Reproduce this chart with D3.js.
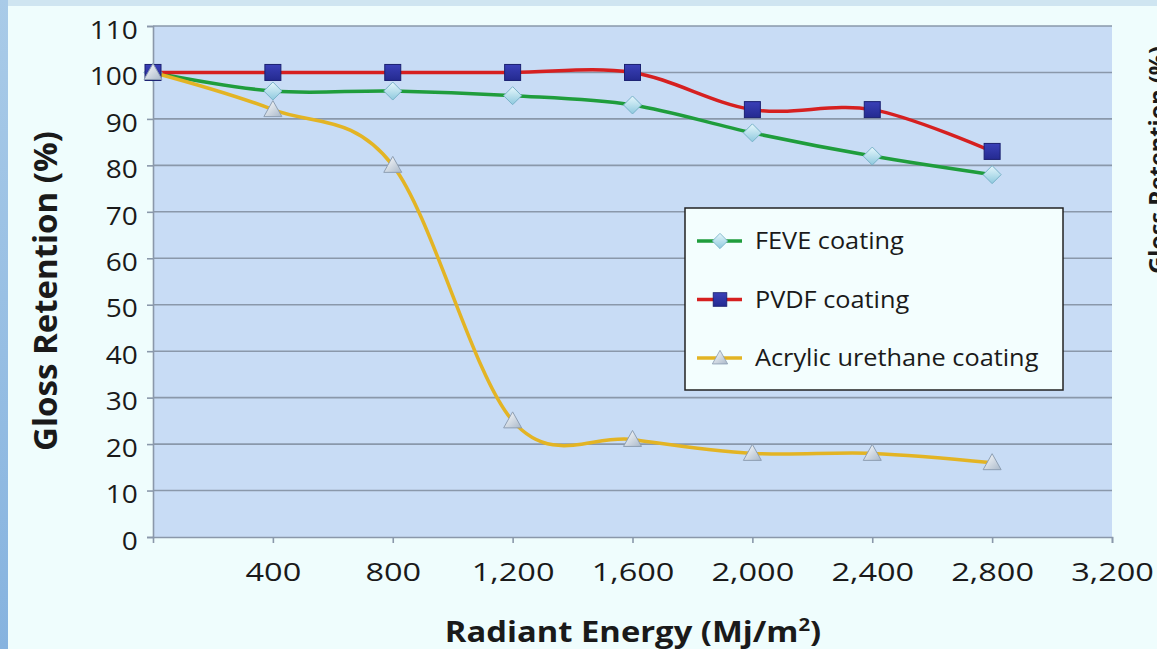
<!DOCTYPE html>
<html>
<head>
<meta charset="utf-8">
<script src="https://d3js.org/d3.v7.min.js"></script>
<style>
  body { margin: 0; background: #effdfd; }
  svg { display: block; font-family: "Open Sans", "Noto Sans", sans-serif; }
</style>
</head>
<body>
<div id="chart"></div>
<script>
// Data
var energy = [0, 400, 800, 1200, 1600, 2000, 2400, 2800];
var feve = [100, 96, 96, 95, 93, 87, 82, 78];
var pvdf = [100, 100, 100, 100, 100, 92, 92, 83];
var acrylic = [100, 92, 80, 25, 21, 18, 18, 16];
var seriesNames = ["FEVE coating", "PVDF coating", "Acrylic urethane coating"];
var xTicks = [400, 800, 1200, 1600, 2000, 2400, 2800, 3200];
var yTicks = [0, 10, 20, 30, 40, 50, 60, 70, 80, 90, 100, 110];

var W = 1157, H = 649;
var margin = { top: 26, right: 45, bottom: 112, left: 153 };
var width = W - margin.left - margin.right;
var height = H - margin.top - margin.bottom;

var svg = d3.select("#chart").append("svg")
  .attr("width", W)
  .attr("height", H);

// page background bits
var defs = svg.append("defs");
var lg = defs.append("linearGradient").attr("id", "leftStrip")
  .attr("x1", 0).attr("y1", 0).attr("x2", 0).attr("y2", 1);
lg.append("stop").attr("offset", "0%").attr("stop-color", "#a9cbe8");
lg.append("stop").attr("offset", "100%").attr("stop-color", "#86b3df");

var dg = defs.append("linearGradient").attr("id", "diamondFill")
  .attr("x1", 0).attr("y1", 0).attr("x2", 0).attr("y2", 1);
dg.append("stop").attr("offset", "0%").attr("stop-color", "#e6f7fc");
dg.append("stop").attr("offset", "100%").attr("stop-color", "#8ec9de");

var tg = defs.append("linearGradient").attr("id", "triFill")
  .attr("x1", 0).attr("y1", 0).attr("x2", 1).attr("y2", 1);
tg.append("stop").attr("offset", "0%").attr("stop-color", "#ffffff");
tg.append("stop").attr("offset", "100%").attr("stop-color", "#a9b8c9");

var sg = defs.append("linearGradient").attr("id", "sqFill")
  .attr("x1", 0).attr("y1", 0).attr("x2", 0).attr("y2", 1);
sg.append("stop").attr("offset", "0%").attr("stop-color", "#3a40b8");
sg.append("stop").attr("offset", "100%").attr("stop-color", "#242a90");

svg.append("rect").attr("width", W).attr("height", H).attr("fill", "#effdfd");
svg.append("rect").attr("width", W).attr("height", 6).attr("fill", "#cfe5f1");
svg.append("rect").attr("width", 8).attr("height", H).attr("fill", "url(#leftStrip)");

var g = svg.append("g")
  .attr("transform", "translate(" + margin.left + "," + margin.top + ")");

// scales
var x = d3.scaleLinear().domain([0, 3200]).range([0, width]);
var y = d3.scaleLinear().domain([0, 110]).range([height, 0]);

// plot area
g.append("rect")
  .attr("width", width)
  .attr("height", height)
  .attr("fill", "#c8dcf5");

// gridlines
g.append("g").selectAll("line")
  .data(yTicks.filter(function(d) { return d > 0; }))
  .enter().append("line")
  .attr("x1", 0).attr("x2", width)
  .attr("y1", function(d) { return y(d); })
  .attr("y2", function(d) { return y(d); })
  .attr("stroke", "#8a98aa")
  .attr("stroke-width", 1.6);

// axes
var xAxis = g.append("g")
  .attr("transform", "translate(0," + height + ")")
  .call(d3.axisBottom(x).tickValues(xTicks).tickSize(6).tickPadding(20)
    .tickFormat(d3.format(",")));
var yAxis = g.append("g")
  .call(d3.axisLeft(y).tickValues(yTicks).tickSize(6).tickPadding(8));

[xAxis, yAxis].forEach(function(a) {
  a.select(".domain").attr("stroke", "#8a98aa").attr("stroke-width", 1.6);
  a.selectAll(".tick line").attr("stroke", "#8a98aa").attr("stroke-width", 1.6);
  a.selectAll("text")
    .attr("fill", "#1a1a1a")
    .style("font-size", "26px")
    .style("font-family", "'Open Sans', sans-serif");
});
// the source picture is stretched sideways a little
yAxis.selectAll("text").attr("dy", "0.47em").attr("transform", "scale(1.08,1)");
xAxis.selectAll("text").attr("transform", "scale(1.25,1)");

// axis titles
svg.append("text")
  .attr("transform", "rotate(-90)")
  .attr("x", -291)
  .attr("y", 57)
  .style("text-anchor", "middle")
  .style("font-size", "33px")
  .style("font-weight", "bold")
  .attr("fill", "#1a1a1a")
  .text("Gloss Retention (%)");

var xt = svg.append("text")
  .attr("transform", "translate(633,642) scale(1.13,1)")
  .style("text-anchor", "middle")
  .style("font-size", "29px")
  .style("font-weight", "bold")
  .attr("fill", "#1a1a1a");
xt.append("tspan").text("Radiant Energy (Mj/m");
xt.append("tspan").attr("dy", -11).style("font-size", "18px").text("2");
xt.append("tspan").attr("dy", 11).text(")");

// cut-off title on the right edge
svg.append("text")
  .attr("transform", "rotate(-90)")
  .attr("x", -160)
  .attr("y", 1166)
  .style("text-anchor", "middle")
  .style("font-size", "23.5px")
  .style("font-weight", "bold")
  .attr("fill", "#1a1a1a")
  .text("Gloss Retention (%)");

// series
var series = [
  { name: seriesNames[0], values: feve, color: "#1f9d3c", marker: "diamond" },
  { name: seriesNames[1], values: pvdf, color: "#d62020", marker: "square" },
  { name: seriesNames[2], values: acrylic, color: "#e3b424", marker: "triangle" }
];

var line = d3.line()
  .x(function(d, i) { return x(energy[i]); })
  .y(function(d) { return y(d); })
  .curve(d3.curveCatmullRom.alpha(0));

function drawMarker(sel, type) {
  if (type === "square") {
    sel.append("rect")
      .attr("x", -8).attr("y", -8).attr("width", 16).attr("height", 16)
      .attr("fill", "url(#sqFill)")
      .attr("stroke", "#1b2070").attr("stroke-width", 1);
  } else if (type === "diamond") {
    sel.append("path")
      .attr("d", "M0,-9 L9,0 L0,9 L-9,0 Z")
      .attr("fill", "url(#diamondFill)")
      .attr("stroke", "#78b2c8").attr("stroke-width", 1);
  } else {
    sel.append("path")
      .attr("d", "M0,-9 L9,7 L-9,7 Z")
      .attr("fill", "url(#triFill)")
      .attr("stroke", "#8e9fb3").attr("stroke-width", 1);
  }
}

series.forEach(function(s) {
  g.append("path")
    .datum(s.values)
    .attr("fill", "none")
    .attr("stroke", s.color)
    .attr("stroke-width", 3.5)
    .attr("d", line);
});

series.forEach(function(s) {
  g.append("g").selectAll("g")
    .data(s.values)
    .enter().append("g")
    .attr("transform", function(d, i) {
      return "translate(" + x(energy[i]) + "," + y(d) + ")";
    })
    .each(function() { drawMarker(d3.select(this), s.marker); });
});

// legend
var legend = svg.append("g").attr("transform", "translate(685,208)");
legend.append("rect")
  .attr("width", 378).attr("height", 182)
  .attr("fill", "#f3fefe")
  .attr("stroke", "#222").attr("stroke-width", 1.5);

series.forEach(function(s, i) {
  var ly = 33 + i * 58.5;
  var row = legend.append("g").attr("transform", "translate(0," + ly + ")");
  row.append("line")
    .attr("x1", 12).attr("x2", 57)
    .attr("stroke", s.color).attr("stroke-width", 3.5);
  var m = row.append("g").attr("transform", "translate(35,0) scale(0.85)");
  drawMarker(m, s.marker);
  row.append("text")
    .attr("transform", "translate(70,0) scale(1.1,1)")
    .attr("dy", "0.36em")
    .style("font-size", "23px")
    .attr("fill", "#1a1a1a")
    .text(s.name);
});
</script>
</body>
</html>
